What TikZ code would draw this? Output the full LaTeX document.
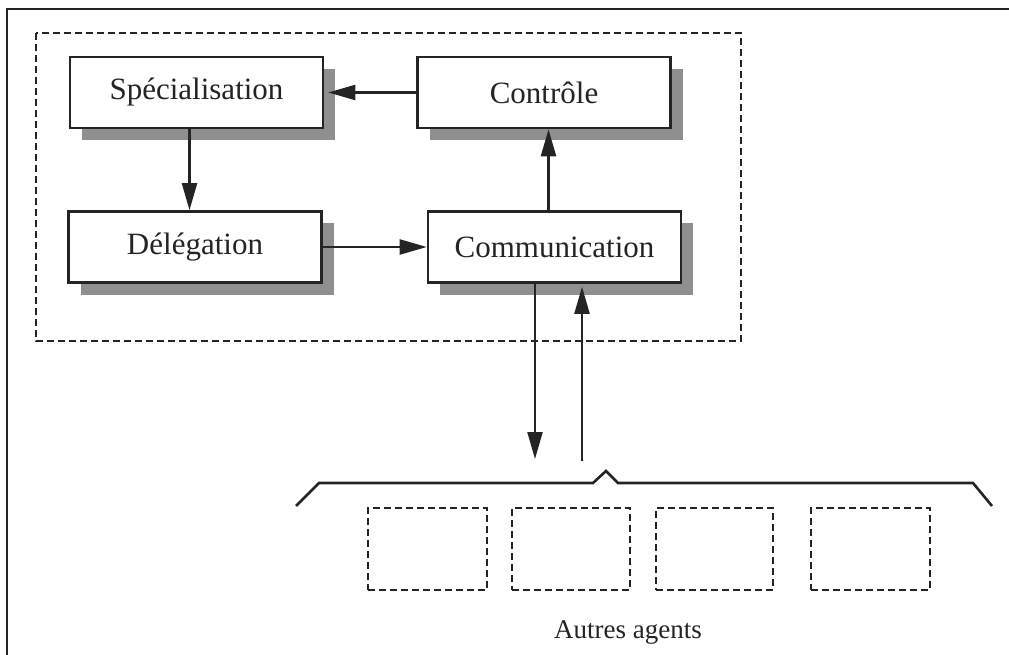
\documentclass[tikz,border=0pt]{standalone}
\usepackage{fontspec}
\setmainfont{Liberation Serif}
\usepackage{tikz}
\usetikzlibrary{arrows.meta,shadows}
\tikzset{every picture/.style={line width=1.5pt}}
\definecolor{inkgray}{rgb}{0.14,0.14,0.14}
\definecolor{shadegray}{rgb}{0.56,0.56,0.56}

\begin{document}
\begin{tikzpicture}[
    x=1pt, y=1pt,
    module/.style={
        rectangle, draw=inkgray, fill=white, line width=2.6pt,
        inner sep=0pt, minimum width=253pt, minimum height=71pt,
        font=\fontsize{31}{37}\selectfont, text=inkgray,
        drop shadow={shadow xshift=12pt, shadow yshift=-12pt,
                     fill=shadegray, opacity=1}
    },
    agentbox/.style={   % other agents, dashed
        rectangle, draw=inkgray, dash pattern=on 7pt off 4pt,
        line width=1.4pt, inner sep=0pt, minimum height=82pt
    },
    flow/.style={
        draw=inkgray, line width=2.2pt,
        -{Triangle[length=27pt, width=15pt]}
    },
]

\useasboundingbox (0,0) rectangle (1009,-655);

%% ===================== FRAME =====================
\draw[inkgray, line width=2.8pt] (7,-655) -- (7,-9) -- (1009,-9);

%% agent boundary (dashed)
\draw[inkgray, line width=1.4pt, dash pattern=on 7pt off 4pt]
  (36,-33) rectangle (741,-341);

%% ===================== MODULES =====================
\node[module] (Spec)  at (196.5,-92.5) {Spécialisation};
\node[module] (Ctrl)  at (544,-92.5)   {Contrôle};
\node[module] (Deleg) at (195,-247)    {Délégation};
\node[module] (Comm)  at (554.5,-247)  {Communication};

%% ===================== INTERNAL FLOWS =====================
\draw[flow] (Ctrl.west) -- ([xshift=4pt]Spec.east);
\draw[flow] ([xshift=-7pt]Spec.south) -- ([xshift=-7pt]Spec.south |- Deleg.north);
\draw[flow] (Deleg.east) -- (Comm.west);
\draw[flow] ([xshift=-6pt]Comm.north) -- ([xshift=-6pt]Comm.north |- Ctrl.south);

%% ===================== EXCHANGES WITH OTHER AGENTS =====================
\coordinate (out) at (535,-459);
\coordinate (in)  at (582,-461);
\draw[flow] (Comm.south -| out) -- (out);
\draw[flow] (in) -- ([yshift=-3pt]Comm.south -| in);

%% brace over the other agents
\draw[inkgray, line width=2.6pt, line join=miter]
  (296,-506) -- (319,-483) -- (593,-483) -- (606,-471)
  -- (618,-483) -- (973,-483) -- (992,-506);

%% other agents
\foreach \n/\xa/\xb in {1/368/487, 2/512/630, 3/656/773, 4/811/930} {
  \pgfmathsetmacro{\w}{\xb-\xa}
  \node[agentbox, minimum width=\w pt] (agent\n)
    at ({(\xa+\xb)/2},-549) {};
}

\node[font=\fontsize{27}{32}\selectfont, text=inkgray] (others)
  at (628,-632) {Autres agents};

\end{tikzpicture}
\end{document}
